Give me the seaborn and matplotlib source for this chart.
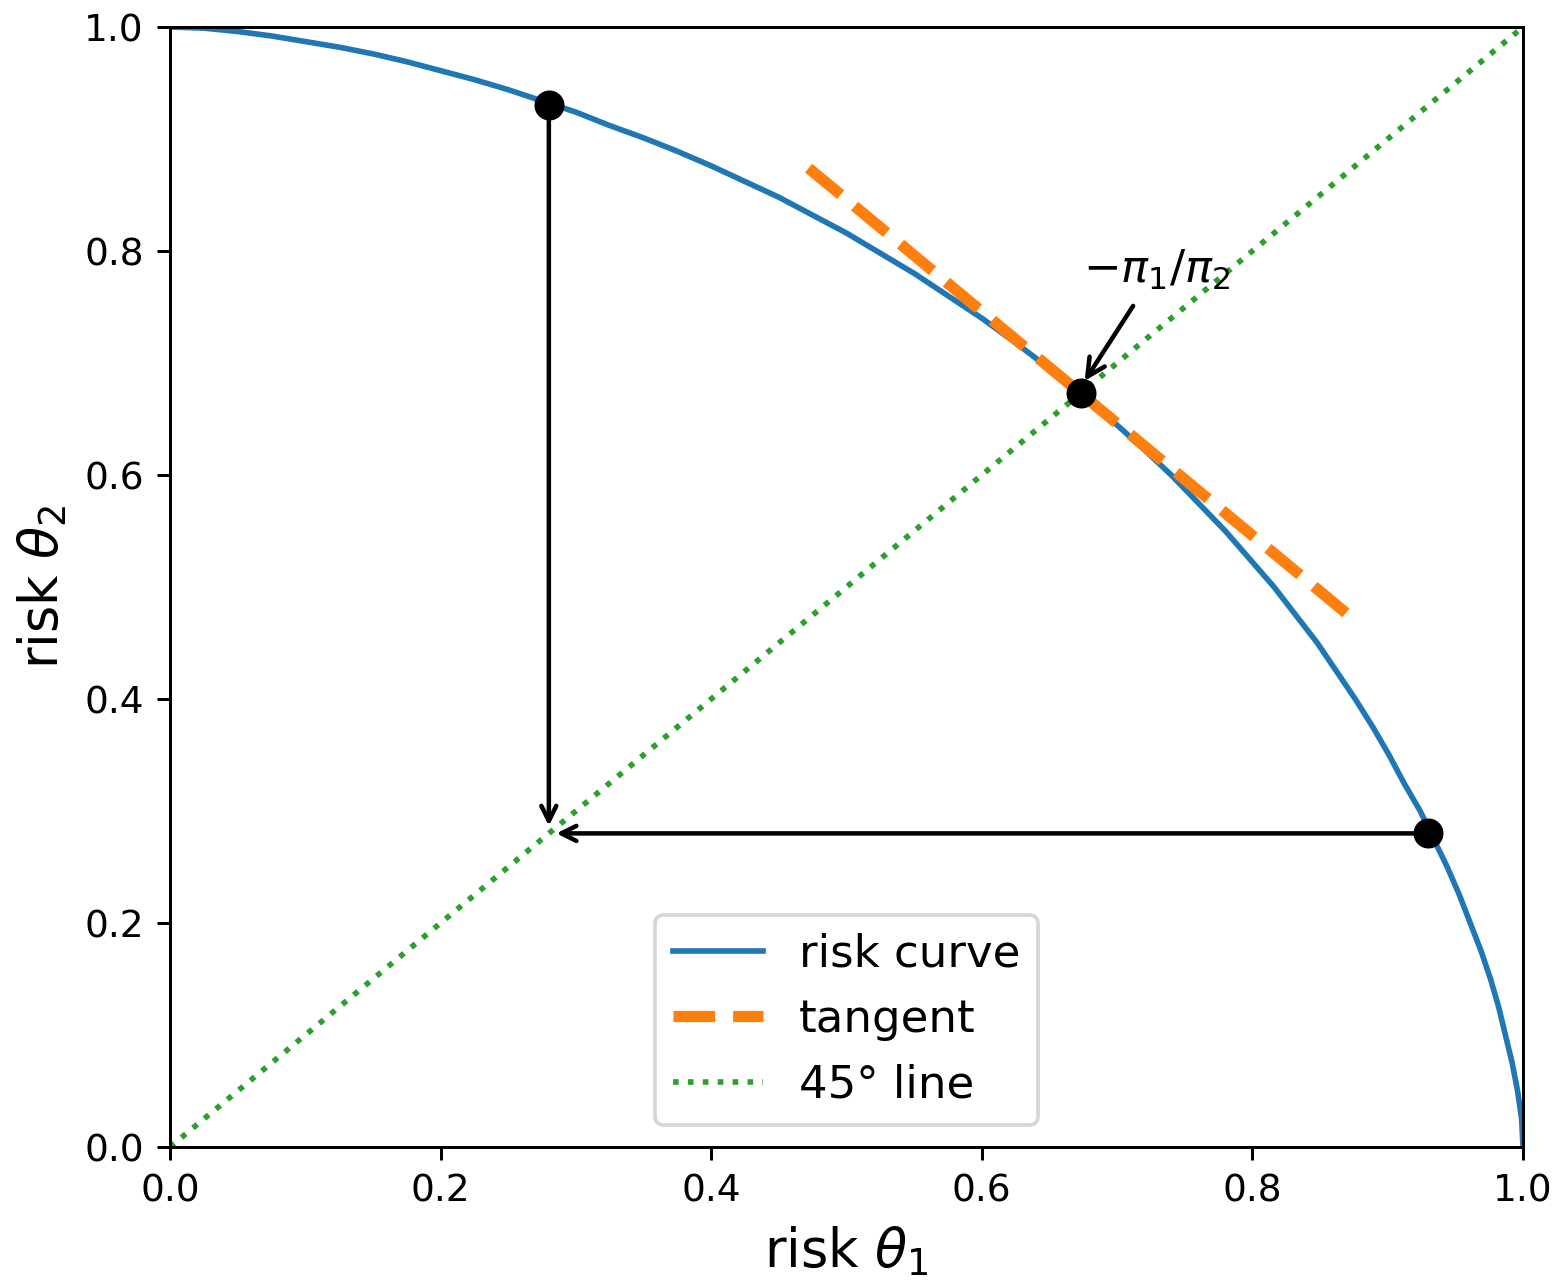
import matplotlib
matplotlib.use("Agg")
import matplotlib.pyplot as plt
import seaborn as sns
import pandas as pd

# Risk curve (upper half; lower half is its mirror)
curve_x_upper = [0.0, 0.025, 0.05, 0.075, 0.10, 0.125, 0.15, 0.175, 0.20, 0.225,
                 0.25, 0.275, 0.30, 0.325, 0.35, 0.375, 0.40, 0.425, 0.45, 0.475,
                 0.50, 0.525, 0.55, 0.575, 0.60, 0.625, 0.65, 0.66, 0.673]
curve_y_upper = [1.0, 0.999, 0.996, 0.992, 0.987, 0.982, 0.976, 0.969, 0.961, 0.953,
                 0.944, 0.934, 0.924, 0.912, 0.901, 0.889, 0.876, 0.862, 0.848, 0.832,
                 0.816, 0.798, 0.780, 0.760, 0.740, 0.718, 0.695, 0.686, 0.673]
curve_x = curve_x_upper + curve_y_upper[::-1][1:]
curve_y = curve_y_upper + curve_x_upper[::-1][1:]

tangent_x = [0.472, 0.872]
tangent_y = [0.874, 0.474]

diag_x = [0.0, 1.0]
diag_y = [0.0, 1.0]

points_x = [0.28, 0.673, 0.93]
points_y = [0.93, 0.673, 0.28]

tick_vals = [0.0, 0.2, 0.4, 0.6, 0.8, 1.0]
tick_labels = ["0.0", "0.2", "0.4", "0.6", "0.8", "1.0"]

DPI = 270
fig = plt.figure(figsize=(1563 / DPI, 1285 / DPI), dpi=DPI)
ax = fig.add_axes([170 / 1563, 138 / 1285, 1353 / 1563, 1120 / 1285])

curve_df = pd.DataFrame({"x": curve_x, "y": curve_y})
tan_df = pd.DataFrame({"x": tangent_x, "y": tangent_y})
diag_df = pd.DataFrame({"x": diag_x, "y": diag_y})

sns.lineplot(data=curve_df, x="x", y="y", ax=ax, color="#1f77b4", lw=1.5,
             sort=False, estimator=None, label="risk curve")
sns.lineplot(data=tan_df, x="x", y="y", ax=ax, color="#ff7f0e", lw=3,
             linestyle="--", sort=False, estimator=None, label="tangent")
sns.lineplot(data=diag_df, x="x", y="y", ax=ax, color="#2ca02c", lw=1.5,
             linestyle=":", sort=False, estimator=None, label="45° line")

ax.plot(points_x, points_y, "o", color="black", ms=7, zorder=5)

ax.annotate("", xy=(points_x[0], 0.28), xytext=(points_x[0], points_y[0]),
            arrowprops=dict(arrowstyle="->", color="black", lw=1.2))
ax.annotate("", xy=(0.28, points_y[2]), xytext=(points_x[2], points_y[2]),
            arrowprops=dict(arrowstyle="->", color="black", lw=1.2))
ax.annotate(r"$-\pi_1/\pi_2$", xy=(0.676, 0.684), xytext=(0.729, 0.783),
            ha="center", va="center", fontsize=12,
            arrowprops=dict(arrowstyle="->", color="black", lw=1.2, shrinkB=0))

ax.set_xlim(0, 1)
ax.set_ylim(0, 1)
ax.set_xticks(tick_vals)
ax.set_xticklabels(tick_labels)
ax.set_yticks(tick_vals)
ax.set_yticklabels(tick_labels)
ax.tick_params(labelsize=10)
ax.set_xlabel(r"risk $\theta_1$", fontsize=14)
ax.set_ylabel(r"risk $\theta_2$", fontsize=14)
ax.legend(loc="lower center", fontsize=12)

fig.savefig("out.png", dpi=DPI)
